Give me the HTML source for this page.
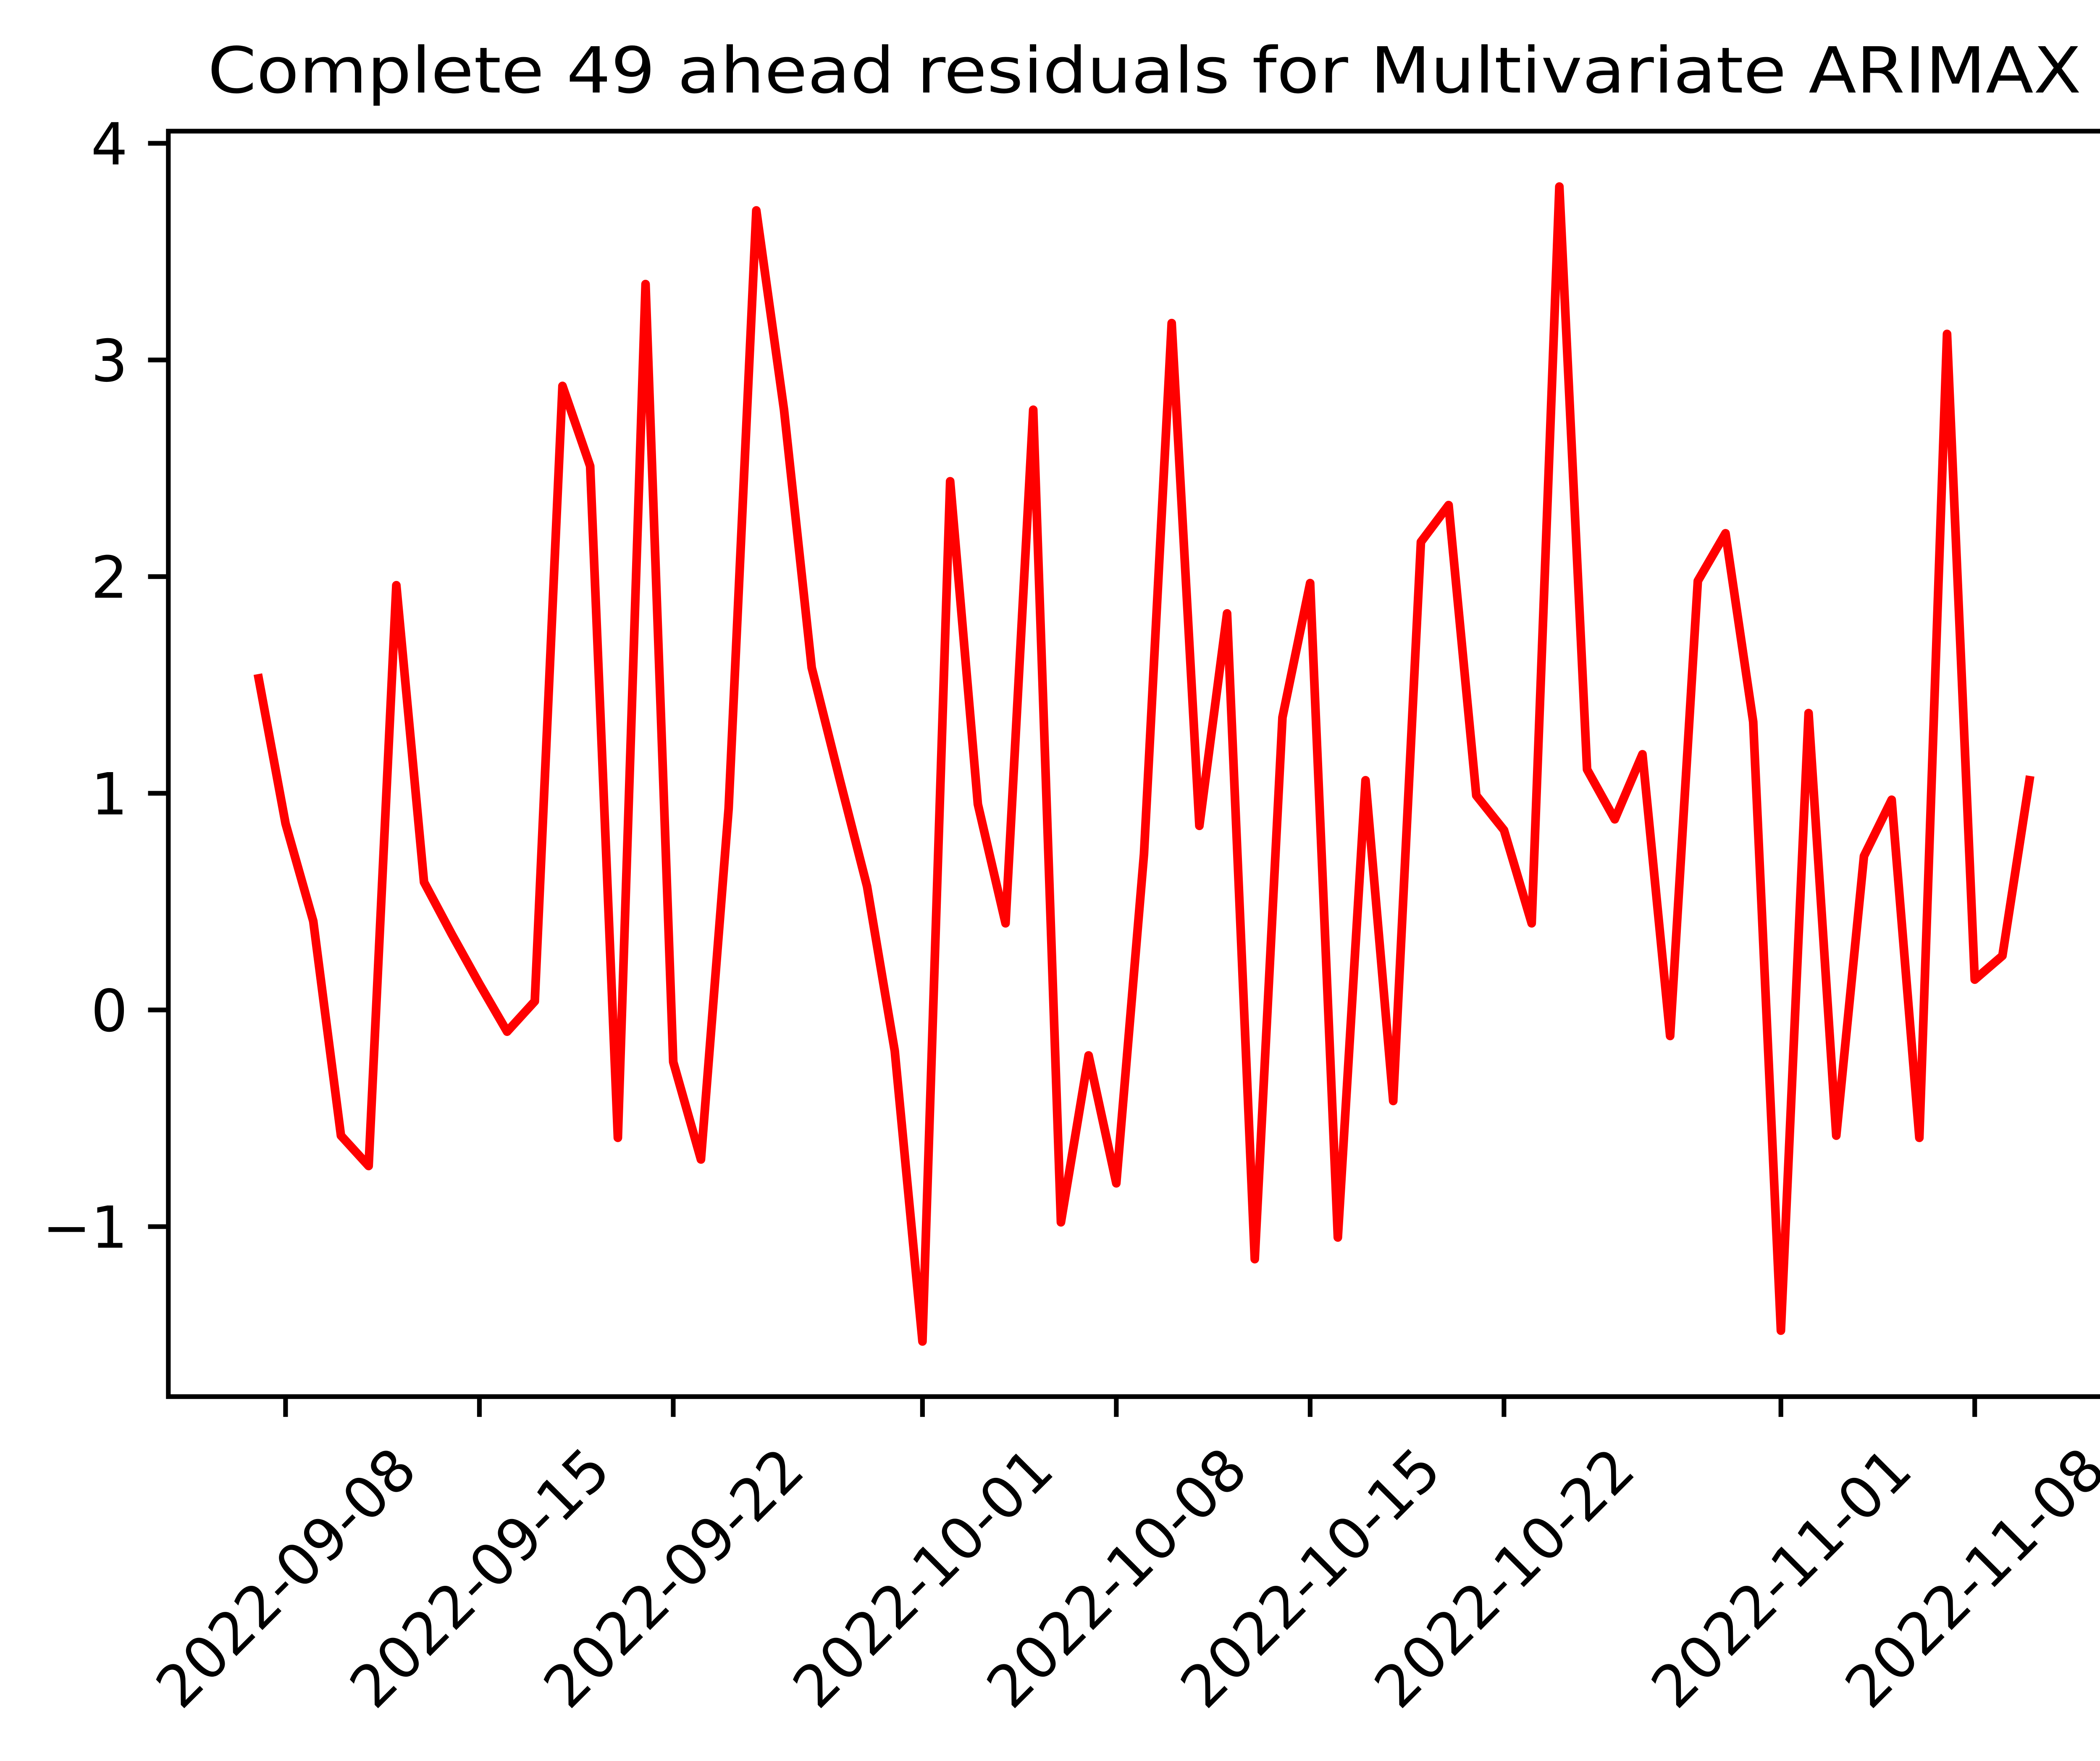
<!DOCTYPE html>
<html>
<head>
<meta charset="utf-8">
<style>
html,body{margin:0;padding:0;background:#fff;}
svg{display:block;}
text{font-family:"DejaVu Sans","Liberation Sans",sans-serif;fill:#000;}
</style>
</head>
<body>
<svg id="chart" width="5151" height="4192" viewBox="0 0 1568 1276" xmlns="http://www.w3.org/2000/svg">
  <rect x="0" y="0" width="1568" height="1276" fill="#fff"/>
  <text x="829.5" y="67" text-anchor="middle" font-size="46" textLength="1358" lengthAdjust="spacingAndGlyphs">Complete 49 ahead residuals for Multivariate ARIMAX</text>
  <g id="plot"></g>
  <g id="yaxis"></g>
  <g id="xaxis"></g>
  <rect x="122" y="95" width="1415" height="917" fill="none" stroke="#000" stroke-width="3.4"/>
</svg>
<script>
// Start date of the daily series (index 0 = 2022-09-07)
const startDate = "2022-09-07";
const residuals = [1.55,0.86,0.41,-0.58,-0.72,1.96,0.59,0.35,0.12,-0.10,0.04,2.88,2.51,-0.59,3.35,-0.24,-0.69,0.93,3.69,2.77,1.58,1.07,0.57,-0.19,-1.53,2.44,0.95,0.40,2.77,-0.98,-0.21,-0.80,0.72,3.17,0.85,1.83,-1.15,1.35,1.97,-1.05,1.06,-0.42,2.16,2.33,0.99,0.83,0.40,3.80,1.11,0.88,1.18,-0.12,1.98,2.20,1.33,-1.48,1.37,-0.58,0.71,0.97,-0.59,3.12,0.14,0.25,1.08];
const yTicks = [-1,0,1,2,3,4];
const yTickLabels = ["\u22121","0","1","2","3","4"];
const xTickDates = ["2022-09-08","2022-09-15","2022-09-22","2022-10-01","2022-10-08","2022-10-15","2022-10-22","2022-11-01","2022-11-08"];

const NS = "http://www.w3.org/2000/svg";
const DAY = 86400000;
const t0 = Date.parse(startDate + "T00:00:00Z");
function dayIndex(s){ return (Date.parse(s + "T00:00:00Z") - t0) / DAY; }
function xScale(d){ return 186.9 + d * 20.07; }
function yScale(v){ return 731.8 - v * 157.0; }

const plot = document.getElementById('plot');
const yaxis = document.getElementById('yaxis');
const xaxis = document.getElementById('xaxis');

// line
let d = '';
residuals.forEach((v, i) => { d += (i ? 'L' : 'M') + xScale(i).toFixed(2) + ' ' + yScale(v).toFixed(2); });
const line = document.createElementNS(NS, 'path');
line.setAttribute('d', d);
line.setAttribute('fill', 'none');
line.setAttribute('stroke', '#ff0000');
line.setAttribute('stroke-width', '6.3');
line.setAttribute('stroke-linejoin', 'round');


plot.appendChild(line);

// y ticks
yTicks.forEach((v, i) => {
  const y = yScale(v);
  const tk = document.createElementNS(NS, 'line');
  tk.setAttribute('x1', 122); tk.setAttribute('x2', 107.3);
  tk.setAttribute('y1', y); tk.setAttribute('y2', y);
  tk.setAttribute('stroke', '#000'); tk.setAttribute('stroke-width', '3.4');
  
  
  yaxis.appendChild(tk);
  const t = document.createElementNS(NS, 'text');
  t.setAttribute('x', 92.6); t.setAttribute('y', y + 15.3);
  t.setAttribute('text-anchor', 'end'); t.setAttribute('font-size', '42');
  t.textContent = yTickLabels[i];
  
  
  yaxis.appendChild(t);
});

// x ticks
xTickDates.forEach((s) => {
  const x = xScale(dayIndex(s));
  const tk = document.createElementNS(NS, 'line');
  tk.setAttribute('x1', x); tk.setAttribute('x2', x);
  tk.setAttribute('y1', 1012); tk.setAttribute('y2', 1026.7);
  tk.setAttribute('stroke', '#000'); tk.setAttribute('stroke-width', '3.4');
  
  
  xaxis.appendChild(tk);
  const t = document.createElementNS(NS, 'text');
  t.setAttribute('transform', 'translate(' + x + ',1143) rotate(-45)');
  t.setAttribute('text-anchor', 'middle');
  t.setAttribute('dy', '0.36em');
  t.setAttribute('font-size', '42');
  t.textContent = s;
  
  
  xaxis.appendChild(t);
});
</script>
</body>
</html>
